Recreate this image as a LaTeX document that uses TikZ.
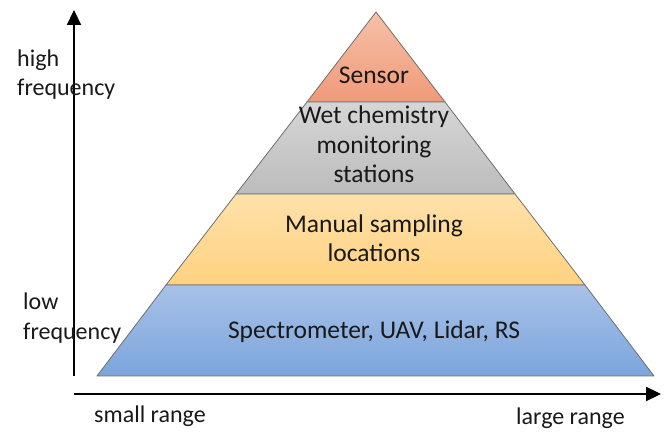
\documentclass[tikz,border=0pt]{standalone}
\usepackage{fontspec}
\setmainfont{Carlito}
\usetikzlibrary{arrows.meta}
\definecolor{sensortop}{RGB}{247,192,168}
\definecolor{sensorbot}{RGB}{239,154,120}
\definecolor{wettop}{RGB}{214,214,214}
\definecolor{wetbot}{RGB}{188,188,188}
\definecolor{manualtop}{RGB}{254,225,170}
\definecolor{manualbot}{RGB}{255,210,128}
\definecolor{spectop}{RGB}{168,193,232}
\definecolor{specbot}{RGB}{124,165,220}
\definecolor{edgegrey}{RGB}{110,110,110}
\definecolor{inktext}{RGB}{25,25,25}
\tikzset{
  layeredge/.style={draw=edgegrey, line width=0.8pt, line join=round},
  layertext/.style={font=\fontsize{25.5}{29.5}\selectfont, text=inktext, align=center, inner sep=0pt},
  axislabel/.style={font=\fontsize{24}{29}\selectfont, text=inktext, inner sep=0pt},
  axisline/.style={line width=2.2pt, -{Triangle[length=15pt,width=14pt]}}
}
\begin{document}
\begin{tikzpicture}[x=1pt,y=-1pt]
\useasboundingbox (0,0) rectangle (665,435);
% pyramid corner points
\coordinate (apex) at (376,12);
\coordinate (l1) at (307,102);  \coordinate (r1) at (445,102);
\coordinate (l2) at (236,194);  \coordinate (r2) at (515,194);
\coordinate (l3) at (166,285);  \coordinate (r3) at (585,285);
\coordinate (l4) at (97,376);   \coordinate (r4) at (654,376);
% layers, top to bottom
\shade[top color=sensortop, bottom color=sensorbot] (apex) -- (r1) -- (l1) -- cycle;
\draw[layeredge] (apex) -- (r1) -- (l1) -- cycle;
\shade[top color=wettop, bottom color=wetbot] (l1) -- (r1) -- (r2) -- (l2) -- cycle;
\draw[layeredge] (l1) -- (r1) -- (r2) -- (l2) -- cycle;
\shade[top color=manualtop, bottom color=manualbot] (l2) -- (r2) -- (r3) -- (l3) -- cycle;
\draw[layeredge] (l2) -- (r2) -- (r3) -- (l3) -- cycle;
\shade[top color=spectop, bottom color=specbot] (l3) -- (r3) -- (r4) -- (l4) -- cycle;
\draw[layeredge] (l3) -- (r3) -- (r4) -- (l4) -- cycle;
% layer labels (base anchor sits on the last line)
\node[layertext, anchor=base] (sensor) at (374,84) {Sensor};
\node[layertext, anchor=base] (wet) at (374,183) {Wet chemistry\\monitoring\\stations};
\node[layertext, anchor=base] (manual) at (374,262) {Manual sampling\\locations};
\node[layertext, anchor=base] (spec) at (374,339) {Spectrometer, UAV, Lidar, RS};
% axes
\coordinate (origin) at (74,376);
\coordinate (ytip) at (74,10);
\coordinate (xstart) at (74,394);
\coordinate (xtip) at (661,394);
\draw[axisline] (origin) -- (ytip);
\draw[axisline] (xstart) -- (xtip);
% axis labels
\node[axislabel, anchor=base west] (high) at (17,67) {high};
\node[axislabel, anchor=base west] (highfreq) at (17,96) {frequency};
\node[axislabel, anchor=base west] (low) at (23,310) {low};
\node[axislabel, anchor=base west] (lowfreq) at (23,340) {frequency};
\node[axislabel, anchor=base west] (small) at (94,423) {small range};
\node[axislabel, anchor=base west] (large) at (516,425) {large range};
\end{tikzpicture}
\end{document}
